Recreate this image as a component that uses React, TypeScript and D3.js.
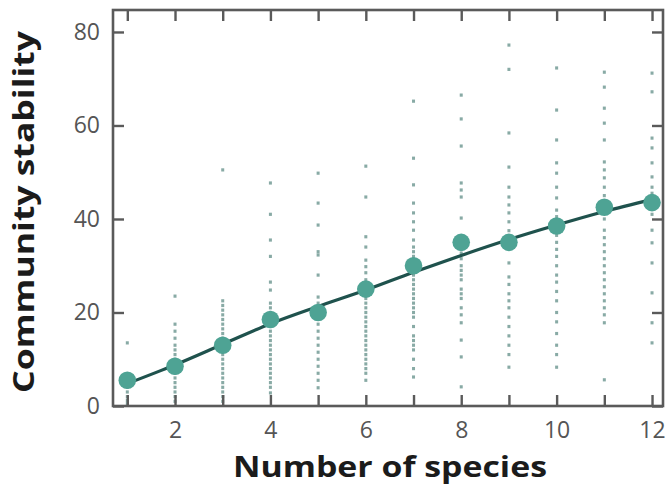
import React, { useEffect, useRef } from 'react';
import * as d3 from 'd3';

// Number of species in each community
const speciesCounts = [1, 2, 3, 4, 5, 6, 7, 8, 9, 10, 11, 12];

// Mean stability per species count (big markers)
const meanStability = [5.5, 8.5, 13, 18.5, 20, 25, 30, 35, 35, 38.5, 42.5, 43.5];

// Fitted trend read at each species count
const fittedStability = [4.8, 8.8, 13.2, 17.6, 21.3, 24.8, 28.6, 32.2, 35.6, 38.7, 41.6, 44.2];

// Individual replicate stabilities (small dots), one list per species count
const reps1 = [13.5, 5, 4, 3, 2, 1.2, 0.5];
const reps2 = [23.5, 17.5, 16, 14.5, 13, 12, 11, 10, 9, 8, 7, 6, 5, 4, 3, 2, 1];
const reps3 = [50.5, 22.5, 21.5, 20.5, 19.5, 18.5, 17.5, 16.5, 15.5, 14.5, 13.5, 12.5, 11, 10, 9, 8, 7, 6, 5, 4, 3, 2, 1];
const reps4 = [47.7, 41, 35.5, 32, 26.5, 24.8, 22, 21, 20, 19, 18, 17, 16, 15, 14, 13, 12, 11, 10, 9, 8, 7, 6, 5, 4, 2.8];
const reps5 = [49.8, 43.4, 38.7, 33, 32.3, 28, 23.3, 22, 20.5, 19, 17.5, 16, 14.5, 13, 11.5, 10, 8.5, 7, 5.5, 3.9];
const reps6 = [51.3, 44.7, 36.2, 34, 31.2, 29.8, 28.5, 27, 26, 24, 23, 22, 21, 20, 19, 18, 17, 16, 15, 14, 13, 12, 11, 10, 9, 8, 7, 5.5];
const reps7 = [65.2, 53, 47.3, 43.4, 41.3, 39.4, 37.6, 35.5, 34, 33, 32, 31, 28, 27, 26, 25, 24, 23, 22, 21, 20, 19, 17, 15, 14, 13, 12, 10, 8, 6.2];
const reps8 = [66.5, 61.4, 55.6, 47.7, 46.2, 44.7, 40.2, 32.7, 31.5, 30, 29, 28, 27, 25, 24, 23, 21, 19.5, 17.8, 14.1, 10.5, 4.1];
const reps9 = [77.2, 72, 58.4, 51.1, 46.8, 44.7, 43, 41.3, 39.4, 37.5, 30.6, 27.6, 26, 24, 22.5, 21, 19, 17, 15, 13, 11, 8.3];
const reps10 = [72.3, 63.3, 56.9, 52, 49.8, 46.8, 44.5, 41.9, 40.5, 36.5, 35, 33.5, 32, 30, 28, 26.5, 24.5, 22.5, 20, 18, 15.5, 13, 11, 8.3];
const reps11 = [71.4, 68.2, 63.7, 60.5, 56.9, 52.2, 50.5, 48.8, 46.8, 45, 40, 37.6, 36, 34.5, 33, 31.5, 30, 28.5, 27, 25.5, 24, 22.5, 21, 19.5, 17.8, 5.6];
const reps12 = [71.2, 67.2, 57.3, 55.2, 52, 49, 46.8, 45.5, 41, 37.6, 34.9, 30.6, 24.2, 17.8, 13.5];
const replicates = [reps1, reps2, reps3, reps4, reps5, reps6, reps7, reps8, reps9, reps10, reps11, reps12];

const yTicks = [0, 20, 40, 60, 80];

const App = () => {
  const svgRef = useRef<SVGSVGElement>(null);

  useEffect(() => {
    const svg = d3.select(svgRef.current);
    svg.selectAll('*').remove();

    const width = 669;
    const height = 486;
    const left = 113, right = 663, top = 10, bottom = 406;

    const x = d3.scaleLinear().domain([0.7, 12.23]).range([left, right]);
    const y = d3.scaleLinear().domain([0, 84.7]).range([bottom, top]);

    svg.attr('width', width).attr('height', height);

    const frameColor = '#5a5a5a';
    const tickFont = "'Open Sans', sans-serif";

    // replicate dots
    const dots = speciesCounts.flatMap((n, i) => replicates[i].map(v => ({ n, v })));
    svg.append('g')
      .selectAll('rect')
      .data(dots)
      .join('rect')
      .attr('x', d => x(d.n) - 1.5)
      .attr('y', d => y(d.v) - 1.6)
      .attr('width', 3)
      .attr('height', 3.2)
      .attr('fill', '#6a958e')
      .attr('opacity', 0.8);

    // fitted line
    const line = d3.line<number>()
      .x((_, i) => x(speciesCounts[i]))
      .y(d => y(d))
      .curve(d3.curveMonotoneX);
    svg.append('path')
      .attr('d', line(fittedStability))
      .attr('fill', 'none')
      .attr('stroke', '#1f524d')
      .attr('stroke-width', 3.2);

    // mean markers
    svg.append('g')
      .selectAll('circle')
      .data(meanStability)
      .join('circle')
      .attr('cx', (_, i) => x(speciesCounts[i]))
      .attr('cy', d => y(d))
      .attr('r', 8.8)
      .attr('fill', '#4ea394');

    // axes with inward ticks
    const styleAxis = (g: any) => {
      g.select('.domain').remove();
      g.selectAll('line').attr('stroke', frameColor).attr('stroke-width', 2.4);
      g.selectAll('text')
        .attr('fill', '#555')
        .style('font-family', tickFont)
        .style('font-size', '23px');
    };

    svg.append('g')
      .attr('transform', `translate(0,${bottom})`)
      .call(d3.axisBottom(x).tickValues(speciesCounts).tickSize(-11).tickPadding(16)
        .tickFormat((d: any) => (d % 2 === 0 ? String(d) : '')))
      .call(styleAxis);

    svg.append('g')
      .attr('transform', `translate(0,${top})`)
      .call(d3.axisTop(x).tickValues(speciesCounts).tickSize(-11).tickFormat(() => ''))
      .call(styleAxis);

    svg.append('g')
      .attr('transform', `translate(${left},0)`)
      .call(d3.axisLeft(y).tickValues(yTicks).tickSize(-11).tickPadding(13))
      .call(styleAxis);

    svg.append('g')
      .attr('transform', `translate(${right},0)`)
      .call(d3.axisRight(y).tickValues(yTicks).tickSize(-11).tickFormat(() => ''))
      .call(styleAxis);

    // frame
    svg.append('rect')
      .attr('x', left)
      .attr('y', top)
      .attr('width', right - left)
      .attr('height', bottom - top)
      .attr('fill', 'none')
      .attr('stroke', frameColor)
      .attr('stroke-width', 2.6);

    // axis titles
    svg.append('text')
      .attr('x', 390)
      .attr('y', 477)
      .attr('text-anchor', 'middle')
      .attr('fill', '#1b1b1b')
      .attr('textLength', 314)
      .attr('lengthAdjust', 'spacingAndGlyphs')
      .style('font-family', "'Open Sans', sans-serif")
      .style('font-weight', 700)
      .style('font-size', '28px')
      .text('Number of species');

    svg.append('text')
      .attr('transform', `translate(34,${212}) rotate(-90)`)
      .attr('text-anchor', 'middle')
      .attr('fill', '#1b1b1b')
      .attr('textLength', 362)
      .attr('lengthAdjust', 'spacingAndGlyphs')
      .style('font-family', "'Open Sans', sans-serif")
      .style('font-weight', 700)
      .style('font-size', '29px')
      .text('Community stability');
  }, []);

  return (
    <svg ref={svgRef} style={{ position: 'absolute', left: 0, top: 0, background: '#fff' }}></svg>
  );
};

export default App;
